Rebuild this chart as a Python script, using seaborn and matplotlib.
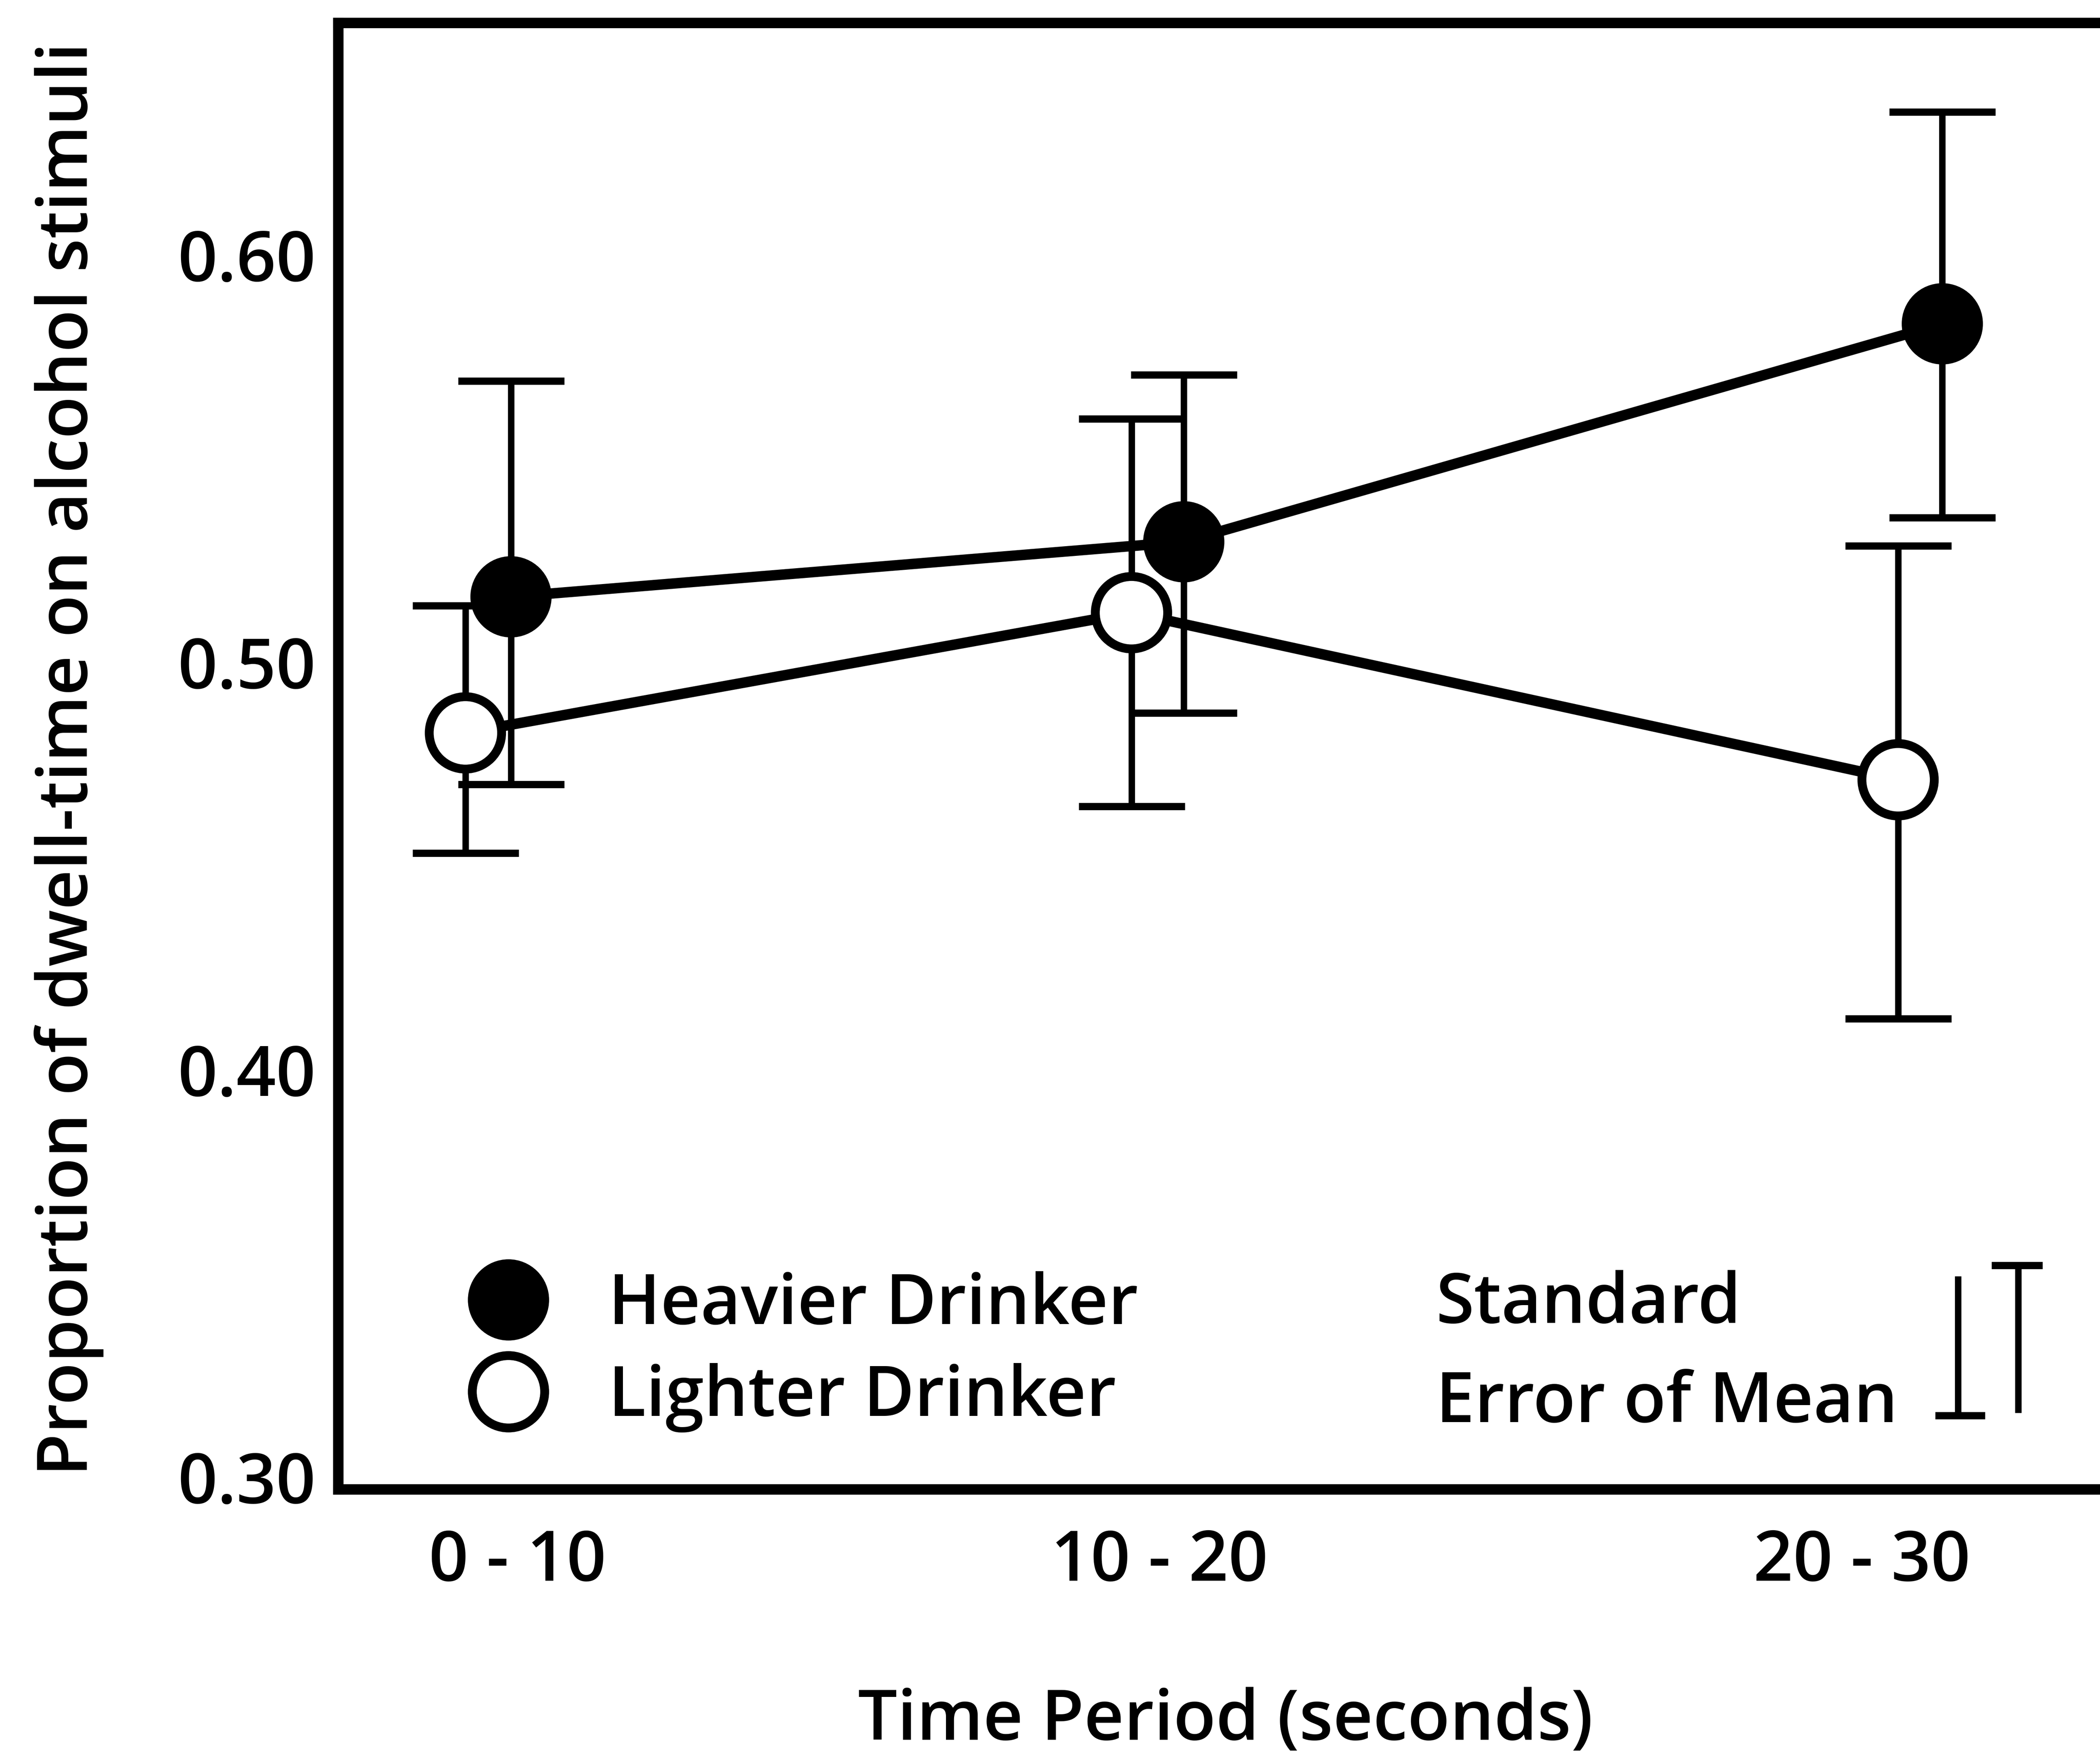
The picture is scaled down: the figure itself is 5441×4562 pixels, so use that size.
import pandas as pd
import matplotlib
matplotlib.use("Agg")
import matplotlib.pyplot as plt
import seaborn as sns
from matplotlib.lines import Line2D

# -----------------------------
# data
# -----------------------------
periods = ["0 - 10", "10 - 20", "20 - 30"]
period_pos = [0.0, 0.958, 2.006]

heavy_x = [-0.010, 0.994, 2.126]
heavy_mean = [0.516, 0.5295, 0.583]
heavy_low = [0.470, 0.4875, 0.5354]
heavy_high = [0.569, 0.5705, 0.635]

light_x = [-0.078, 0.916, 2.060]
light_mean = [0.4826, 0.5121, 0.4711]
light_low = [0.4531, 0.4646, 0.4125]
light_high = [0.5138, 0.5597, 0.5285]

y_ticks = [0.30, 0.40, 0.50, 0.60]

heavy = pd.DataFrame({"x": heavy_x, "mean": heavy_mean, "low": heavy_low,
                      "high": heavy_high, "group": "Heavier Drinker"})
light = pd.DataFrame({"x": light_x, "mean": light_mean, "low": light_low,
                      "high": light_high, "group": "Lighter Drinker"})
df = pd.concat([heavy, light], ignore_index=True)

# -----------------------------
# style
# -----------------------------
sns.set_theme(style="white")
plt.rcParams["font.family"] = ["Open Sans", "DejaVu Sans"]
plt.rcParams["font.weight"] = "semibold"
plt.rcParams["text.color"] = "black"
FS = 43.2

fig = plt.figure(figsize=(5441 / 300, 4562 / 300), dpi=300)
ax = fig.add_axes([0.161, 0.1544, 0.889, 0.8327])

# error bars first, under everything
for _, g in df.groupby("group"):
    ax.errorbar(g["x"], g["mean"], yerr=[g["mean"] - g["low"], g["high"] - g["mean"]],
                fmt="none", ecolor="black", elinewidth=4, capsize=33, capthick=4.5,
                zorder=1)

sns.lineplot(data=df, x="x", y="mean", hue="group",
             palette={"Heavier Drinker": "black", "Lighter Drinker": "black"},
             linewidth=6.5, legend=False, estimator=None, errorbar=None, ax=ax, zorder=2)

sns.scatterplot(data=df, x="x", y="mean", hue="group",
                palette={"Heavier Drinker": "black", "Lighter Drinker": "white"},
                edgecolor="black", linewidth=5.5, s=2025, legend=False, ax=ax, zorder=3)

ax.set_xlim(-0.268, 2.518)
ax.set_ylim(0.297, 0.6569)
ax.set_xticks(period_pos, periods)
ax.set_yticks(y_ticks, [f"{v:.2f}" for v in y_ticks])
ax.tick_params(axis="both", length=0, labelsize=FS, colors="black")
ax.tick_params(axis="x", pad=24)
ax.tick_params(axis="y", pad=14)
ax.set_xlabel("")
ax.set_ylabel("")
for s in ax.spines.values():
    s.set_visible(True)
    s.set_color("black")
    s.set_linewidth(6.5)

# axis titles
fig.text(0.5835, 0.012, "Time Period (seconds)", ha="center", va="baseline", fontsize=FS)
fig.text(0.0415, 0.5688, "Proportion of dwell-time on alcohol stimuli", rotation=90,
         rotation_mode="anchor", ha="center", va="baseline", fontsize=FS)

# legend for the two groups
handles = [
    Line2D([], [], ls="none", marker="o", ms=45, mfc="black", mec="black", mew=5.5),
    Line2D([], [], ls="none", marker="o", ms=45, mfc="white", mec="black", mew=5.5),
]
fig.legend(handles, ["Heavier Drinker", "Lighter Drinker"], loc="center left",
           bbox_to_anchor=(0.2255, 0.2323), frameon=False, fontsize=FS,
           handlelength=1.0, handletextpad=0.94, labelspacing=0.32, borderpad=0,
           borderaxespad=0)

# standard error key
fig.text(0.6837, 0.2487, "Standard", ha="left", va="baseline", fontsize=FS)
fig.text(0.6837, 0.1924, "Error of Mean", ha="left", va="baseline", fontsize=FS)
key = [
    ([0.9324, 0.9324], [0.2753, 0.1962], 4),
    ([0.9216, 0.9452], [0.1962, 0.1962], 4.5),
    ([0.9611, 0.9611], [0.1977, 0.2814], 4),
    ([0.9483, 0.9726], [0.2814, 0.2814], 4.5),
]
for xs, ys, lw in key:
    fig.add_artist(Line2D(xs, ys, transform=fig.transFigure, color="black",
                          linewidth=lw, solid_capstyle="butt"))

fig.savefig("out.png", dpi=300)
